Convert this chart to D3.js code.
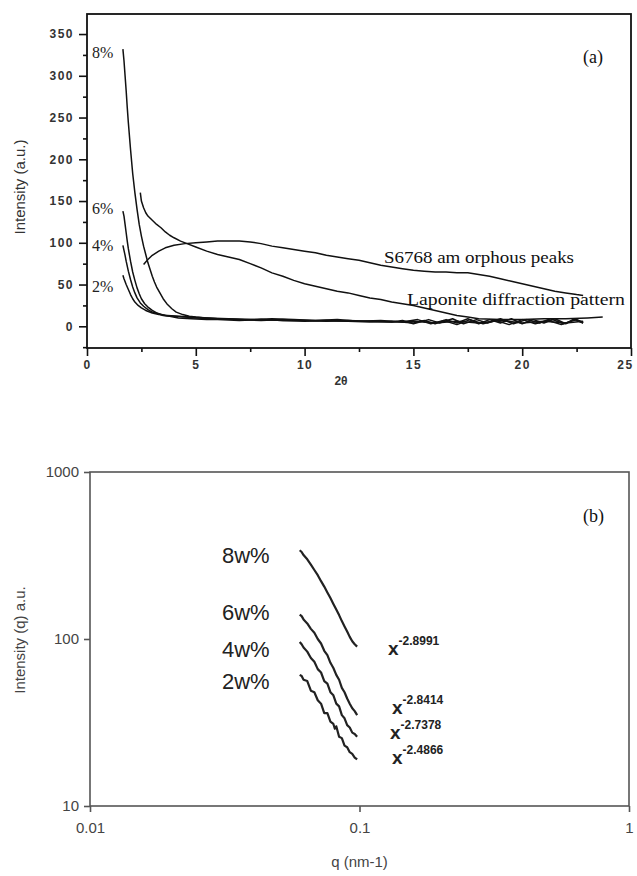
<!DOCTYPE html>
<html>
<head>
<meta charset="utf-8">
<script src="https://cdn.jsdelivr.net/npm/d3@7"></script>
<style>
  body { margin: 0; background: #fff; }
  svg { display: block; }
  .axa text { font-family: "Liberation Sans", Arial, sans-serif; font-weight: bold; font-size: 12px; fill: #333; letter-spacing: 1.5px; }
  .axa path, .axa line { stroke: #111; stroke-width: 1.6px; }
  .axb text { font-family: "Liberation Sans", Arial, sans-serif; font-size: 15px; fill: #444; }
  .axb path, .axb line { stroke: #555; stroke-width: 1.6px; }
</style>
</head>
<body>
<svg id="chart" width="637" height="876"></svg>
<script>
// ---- panel (a): XRD, 2theta vs intensity ----
const xrd8 = [[1.65,332],[1.7,318],[1.75,300],[1.8,282],[1.85,262],[1.9,244],[2.0,212],[2.1,183],[2.2,160],[2.3,140],[2.4,122],[2.5,108],[2.6,96],[2.7,86],[2.8,76],[2.9,68],[3.0,60],[3.1,53],[3.2,47],[3.35,40],[3.5,33],[3.7,26],[3.9,21],[4.1,17],[4.4,14],[4.7,12],[5.0,11],[5.5,10],[6,9],[7,8],[8,8],[9,7],[10,7],[11,7],[12,6],[13,6],[14,5],[15,6],[16,4],[17,6],[18,4],[19,7],[20,4],[21,6],[22,4],[22.8,6]];
const xrd6 = [[1.65,138],[1.7,132],[1.75,122],[1.8,112],[1.85,102],[1.9,93],[2.0,78],[2.1,65],[2.2,55],[2.3,46],[2.4,39],[2.5,33],[2.65,27],[2.8,23],[3.0,19],[3.2,16],[3.5,13],[3.8,12],[4.2,10],[4.8,9],[5.5,8],[6,8],[7,7],[8,8],[9,7],[10,6],[11,7],[12,6],[13,5],[14,6],[15,4],[15.5,7],[16,3],[16.5,8],[17,4],[17.5,9],[18,3],[18.5,8],[19,4],[19.5,9],[20,3],[20.5,8],[21,4],[21.5,9],[22,3],[22.4,9],[22.8,4]];
const xrd4 = [[1.65,97],[1.7,91],[1.75,85],[1.8,78],[1.9,66],[2.0,56],[2.1,47],[2.2,40],[2.3,34],[2.45,28],[2.6,24],[2.8,20],[3.0,17],[3.3,15],[3.6,13],[4.0,12],[4.5,11],[5,10],[6,9],[7,8],[8,7],[9,8],[10,7],[11,6],[12,7],[13,6],[14,5],[14.5,7],[15,3],[15.7,8],[16.2,4],[16.8,9],[17.3,3],[17.9,8],[18.4,4],[19,9],[19.6,3],[20.2,8],[20.8,4],[21.3,9],[21.9,3],[22.5,8],[22.8,5]];
const xrd2 = [[1.65,61],[1.7,57],[1.8,50],[1.9,44],[2.0,38],[2.1,33],[2.2,29],[2.35,25],[2.5,22],[2.7,19],[3.0,16],[3.3,14],[3.7,13],[4.2,12],[4.8,11],[5.5,10],[6.5,9],[7.5,8],[8.5,9],[9.5,8],[10.5,7],[11.5,8],[12.5,6],[13.5,7],[14.5,5],[15.2,8],[15.8,3],[16.4,7],[17,2],[17.6,8],[18.2,3],[18.8,7],[19.4,2],[20,8],[20.6,3],[21.2,7],[21.8,2],[22.4,8],[22.8,4]];
const laponite = [[2.45,160],[2.5,150],[2.6,142],[2.7,136],[2.8,132],[3.0,127],[3.2,122],[3.4,118],[3.6,113],[3.8,109],[4.0,106],[4.3,102],[4.6,99],[5.0,95],[5.5,90],[6.0,86],[6.5,83],[7.0,80],[7.5,75],[8.0,70],[8.5,64],[9.0,60],[9.5,55],[10,51],[10.5,48],[11,45],[11.5,42],[12,40],[12.5,37],[13,34],[13.5,32],[14,29],[14.5,27],[15,25],[15.5,22],[16,19],[16.5,16],[17,13],[17.5,11],[18,9],[19,8],[20,8],[21,9],[22,9],[23,10],[23.7,11]];
const s6768 = [[2.6,74],[2.8,80],[3.0,85],[3.3,90],[3.6,94],[4.0,97],[4.5,99],[5.0,100],[5.5,101],[6.0,102],[6.5,102],[7.0,102],[7.5,101],[8.0,99],[8.5,96],[9.0,94],[9.5,92],[10,90],[10.5,88],[11,85],[11.5,83],[12,81],[12.5,79],[13,76],[13.5,73],[14,71],[14.5,69],[15,67],[15.5,66],[16,65],[16.5,65],[17,64],[17.5,64],[18,62],[18.5,60],[19,57],[19.5,54],[20,51],[20.5,48],[21,45],[21.5,42],[22,40],[22.5,38],[22.8,37]];
const xTicksA = [0, 5, 10, 15, 20, 25];
const yTicksA = [0, 50, 100, 150, 200, 250, 300, 350];

// ---- panel (b): SAXS, log-log ----
const saxs8 = [[0.060,340],[0.061,332],[0.062,318],[0.064,300],[0.066,279],[0.068,259],[0.070,241],[0.072,222],[0.074,206],[0.076,190],[0.078,176],[0.080,162],[0.082,150],[0.084,139],[0.086,128],[0.088,119],[0.090,111],[0.092,103],[0.094,97],[0.096,93],[0.098,90]];
const saxs6 = [[0.060,140],[0.061,137],[0.062,131],[0.064,124],[0.066,115],[0.068,109],[0.070,100],[0.072,94],[0.074,85],[0.076,80],[0.078,72],[0.080,67],[0.082,61],[0.084,57],[0.086,51],[0.088,48],[0.090,44],[0.092,41],[0.094,38.5],[0.096,37],[0.098,35]];
const saxs4 = [[0.060,96],[0.061,93],[0.062,89],[0.064,84],[0.066,77],[0.068,73],[0.070,66],[0.072,63],[0.074,56],[0.076,54],[0.078,48],[0.080,46],[0.082,41],[0.084,39.5],[0.086,35],[0.088,33.5],[0.090,30.5],[0.092,29.5],[0.094,27.5],[0.096,27],[0.098,26]];
const saxs2 = [[0.060,61],[0.061,60],[0.062,57],[0.064,56],[0.066,49],[0.068,48],[0.070,43],[0.072,41],[0.074,36],[0.076,36],[0.078,32],[0.080,31],[0.081,29],[0.082,30],[0.084,26],[0.086,25.5],[0.088,23],[0.090,22.5],[0.092,21],[0.094,20.5],[0.096,19.5],[0.098,19]];
const xTicksB = [0.01, 0.1, 1];
const yTicksB = [10, 100, 1000];

const svg = d3.select("#chart");
svg.append("rect").attr("width", 637).attr("height", 876).attr("fill", "#fff");

// ===== panel (a) =====
const xa = d3.scaleLinear().domain([0, 25]).range([87, 631]);
const ya = d3.scaleLinear().domain([-26, 374]).range([348, 14]);

const ga = svg.append("g");
// frame
ga.append("rect")
  .attr("x", xa(0)).attr("y", ya(374))
  .attr("width", xa(25) - xa(0)).attr("height", ya(-26) - ya(374))
  .attr("fill", "none").attr("stroke", "#111").attr("stroke-width", 1.8);

// minor ticks
ga.append("g").attr("class", "axa")
  .attr("transform", "translate(" + xa(0) + ",0)")
  .call(d3.axisLeft(ya).tickValues(d3.range(-25, 375, 50)).tickSize(4).tickFormat(""))
  .select(".domain").remove();
ga.append("g").attr("class", "axa")
  .attr("transform", "translate(0," + ya(-26) + ")")
  .call(d3.axisBottom(xa).tickValues(d3.range(2.5, 25, 5)).tickSize(4).tickFormat(""))
  .select(".domain").remove();

// major ticks
ga.append("g").attr("class", "axa")
  .attr("transform", "translate(" + xa(0) + ",0)")
  .call(d3.axisLeft(ya).tickValues(yTicksA).tickSize(8).tickPadding(5).tickFormat(d3.format("d")))
  .select(".domain").remove();
const xAxA = ga.append("g").attr("class", "axa")
  .attr("transform", "translate(0," + ya(-26) + ")")
  .call(d3.axisBottom(xa).tickValues(xTicksA).tickSize(8).tickPadding(4).tickFormat(d3.format("d")));
xAxA.select(".domain").remove();
// the right-most label sits on the page edge: nudge it inward
xAxA.selectAll(".tick text").filter(d => d === 25).attr("dx", -6);

const lineA = d3.line().x(d => xa(d[0])).y(d => ya(d[1]));
[xrd8, xrd6, xrd4, xrd2, laponite, s6768].forEach(s => {
  ga.append("path").datum(s)
    .attr("d", lineA)
    .attr("fill", "none").attr("stroke", "#111").attr("stroke-width", 1.5)
    .attr("stroke-linejoin", "round");
});

const serif = "'Liberation Serif', 'Times New Roman', serif";
[["8%", 58], ["6%", 214], ["4%", 251], ["2%", 292]].forEach(([t, y]) => {
  ga.append("text").attr("x", 92).attr("y", y).text(t)
    .attr("font-family", serif).attr("font-size", 16).attr("fill", "#222");
});
ga.append("text").attr("x", 583).attr("y", 63).text("(a)")
  .attr("font-family", serif).attr("font-size", 18).attr("fill", "#111");
ga.append("text").attr("x", 384).attr("y", 263).text("S6768 am orphous peaks")
  .attr("font-family", serif).attr("font-size", 16).attr("fill", "#111")
  .attr("textLength", 190).attr("lengthAdjust", "spacingAndGlyphs");
ga.append("text").attr("x", 407).attr("y", 305).text("Laponite diffraction pattern")
  .attr("font-family", serif).attr("font-size", 16).attr("fill", "#111")
  .attr("textLength", 218).attr("lengthAdjust", "spacingAndGlyphs");

ga.append("text").attr("x", 341).attr("y", 385).text("2θ")
  .attr("text-anchor", "middle").attr("font-family", "'Liberation Sans', Arial, sans-serif")
  .attr("font-size", 12).attr("font-weight", "bold").attr("fill", "#333");
ga.append("text").attr("transform", "translate(25,187) rotate(-90)")
  .attr("text-anchor", "middle").text("Intensity (a.u.)")
  .attr("font-family", "'Liberation Sans', Arial, sans-serif").attr("font-size", 15).attr("fill", "#333");

// ===== panel (b) =====
const xb = d3.scaleLog().domain([0.01, 1]).range([90, 629]);
const yb = d3.scaleLog().domain([10, 1000]).range([806, 472]);

const gb = svg.append("g");
gb.append("rect")
  .attr("x", xb(0.01)).attr("y", yb(1000))
  .attr("width", xb(1) - xb(0.01)).attr("height", yb(10) - yb(1000))
  .attr("fill", "none").attr("stroke", "#555").attr("stroke-width", 1.6);

gb.append("g").attr("class", "axb")
  .attr("transform", "translate(" + xb(0.01) + ",0)")
  .call(d3.axisLeft(yb).tickValues(yTicksB).tickSize(6).tickPadding(5).tickFormat(d3.format("d")))
  .select(".domain").remove();
gb.append("g").attr("class", "axb")
  .attr("transform", "translate(0," + yb(10) + ")")
  .call(d3.axisBottom(xb).tickValues(xTicksB).tickSize(6).tickPadding(10).tickFormat(d => String(d)))
  .select(".domain").remove();

const lineB = d3.line().x(d => xb(d[0])).y(d => yb(d[1]));
[saxs8, saxs6, saxs4, saxs2].forEach(s => {
  gb.append("path").datum(s)
    .attr("d", lineB)
    .attr("fill", "none").attr("stroke", "#222").attr("stroke-width", 2.2)
    .attr("stroke-linejoin", "round");
});

const sans = "'Liberation Sans', Arial, sans-serif";
[["8w%", 563], ["6w%", 620], ["4w%", 657], ["2w%", 689]].forEach(([t, y]) => {
  gb.append("text").attr("x", 222).attr("y", y).text(t)
    .attr("font-family", sans).attr("font-size", 22).attr("fill", "#222");
});
[["-2.8991", 388, 655], ["-2.8414", 392, 714], ["-2.7378", 390, 739], ["-2.4866", 392, 764]].forEach(([e, x, y]) => {
  const t = gb.append("text").attr("x", x).attr("y", y)
    .attr("font-family", sans).attr("fill", "#222");
  t.append("tspan").text("x").attr("font-size", 19).attr("font-weight", "bold");
  t.append("tspan").text(e).attr("font-size", 12).attr("font-weight", "bold").attr("dy", -10);
});
gb.append("text").attr("x", 583).attr("y", 522).text("(b)")
  .attr("font-family", serif).attr("font-size", 18).attr("fill", "#111");

gb.append("text").attr("x", xb(0.1)).attr("y", 867).text("q (nm-1)")
  .attr("text-anchor", "middle").attr("font-family", sans).attr("font-size", 15).attr("fill", "#444");
gb.append("text").attr("transform", "translate(25,640) rotate(-90)")
  .attr("text-anchor", "middle").text("Intensity (q) a.u.")
  .attr("font-family", sans).attr("font-size", 15).attr("fill", "#444");
</script>
</body>
</html>
